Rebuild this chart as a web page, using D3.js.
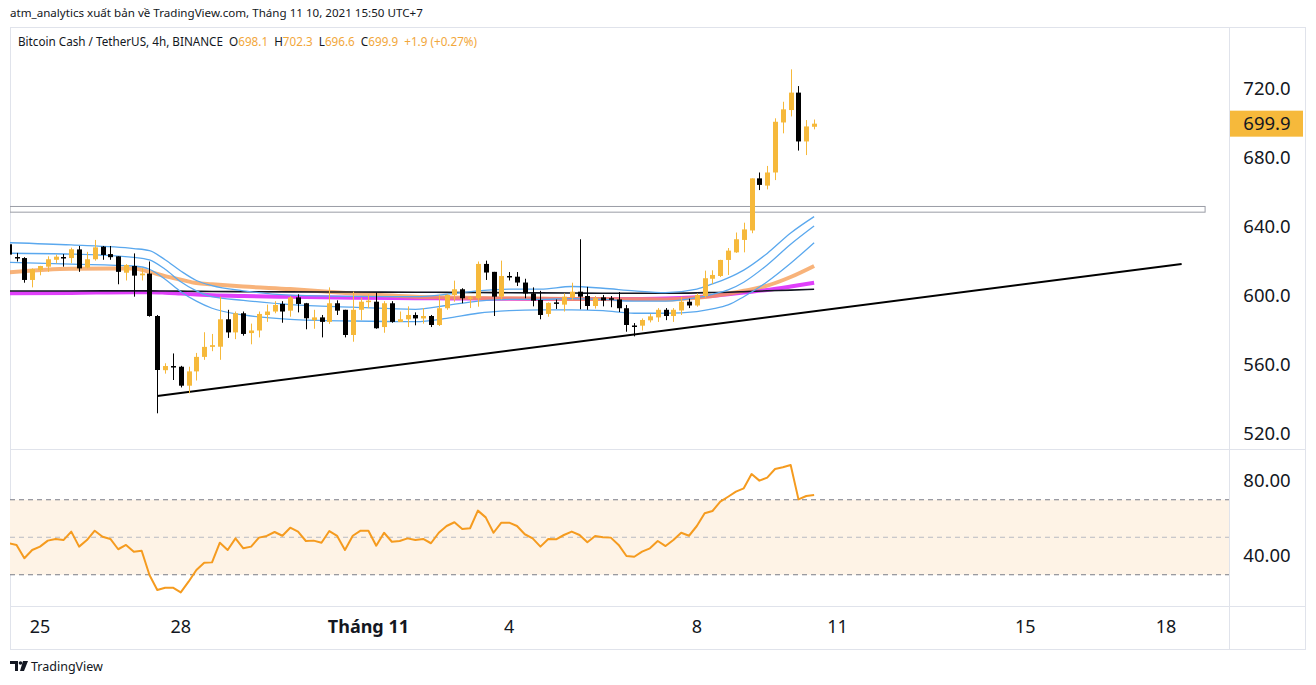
<!DOCTYPE html>
<html><head><meta charset="utf-8">
<script src="https://cdn.jsdelivr.net/npm/d3@7"></script>
<style>
html,body{margin:0;padding:0;background:#fff;}
svg{display:block;font-family:"Noto Sans",sans-serif;}
</style></head>
<body><svg id="c" width="1316" height="685"></svg>
<script>
// ---------- DATA ----------
const headerText = "atm_analytics xuất bản về TradingView.com, Tháng 11 10, 2021 15:50 UTC+7";
const symbolText = "Bitcoin Cash / TetherUS, 4h, BINANCE";
const legendLabels = ["O", "H", "L", "C"];
const legendValues = ["698.1", "702.3", "696.6", "699.9"];
const legendChange = "+1.9 (+0.27%)";
const lastPrice = 699.9;

const opens = [630,622.6,622,609.3,615,617,621,622.6,622,627,616.5,621.3,628.6,624.3,623,613.5,617.4,612,613,588.4,557,559.4,559,548,556.3,564.7,570.5,570.6,586.5,578.9,590,578.5,580,589,591,595.4,591.5,599.2,595.8,586,587.6,585,595.8,592,577.4,592,596.8,596.7,582,595.8,585,586.5,589,587,588.4,583.2,592.9,600.6,603.9,598.5,598.7,618.6,614,599.6,611.6,611.2,607.8,601.5,597.7,589.6,596.3,595,599.2,602.5,600,594.2,599.2,598.7,598,592.9,582.9,582.8,585.9,587.6,592,588.4,591.6,596.7,594.5,600,610,611.6,620.9,625.3,632.5,638,668.2,664,671.6,700.6,707.8,717.9,689.6,698.1];
const highs = [631,625,622.5,616,617.5,623,624,624.3,628,629,625.6,632.5,629,629,623,618.5,624.7,616,620,589,561,566.7,559.5,559,567,579,578,599.6,592,591,591,584,591,595,597,597,600,601,596,592,589,605,597.5,592,602.5,599,601,602,597,597,591,594,590.5,593,589,600.6,601,608.9,604.5,600,620,620.5,614,620.5,613.9,613.9,610,605,603,596.3,598,601.5,607.7,632.9,605.3,600,600.6,600,602.3,594.8,584.3,587,589.6,593,593,593,599.6,598.4,601.5,614.7,614.9,621,627.8,636.8,642.5,668.2,671.6,675.4,703,712.6,731.4,721.7,702,702.3];
const lows = [622,620,607.7,605,612,614,619,617,619,614,616,620.5,621,621,606.8,609,599.6,609,588,532,555,551.3,547,543.6,551,563,568,563,575.7,575,577,572,576,585,590,584.5,588,590.5,580.7,581,576,583.8,589,576,573.5,586,593,581,578.7,584.5,585,582,583,584,582,582.6,592,596.7,595.8,593,593.8,609.3,588.4,598,609,605.8,598.7,594,586.5,588,592.5,591,597.7,592.3,592,592.7,594,593.5,590.7,579.3,576.6,580,584.7,585,586,585,589,593,593.8,598.7,607,611,612.2,625,625.3,636.4,661.4,661.8,667.2,694.3,704.1,684.3,681.7,696.6];
const closes = [624,622.3,609.3,615.6,617.4,621.3,622.8,622.3,627.1,616,621.3,628.2,623.8,622.5,614,618,611.8,613,588.4,557.1,559.4,559,548,556.3,564.7,570.5,571.5,586.5,578.9,590,578,580,589.6,591,594.8,591,599.2,595.4,587.1,587.6,585,595.8,591.5,577.4,592,596.7,597.3,581.3,595.8,585,586.5,589,587,588.4,583.2,592.9,600.6,603.9,598.7,599.2,618.6,613.6,599.6,611.6,611.2,607.8,601.5,597.3,589,596,595.8,599.6,602.5,599.6,594.2,598.7,597.4,598.5,592.9,583.2,582.6,586.1,588.2,592,588.4,592,596.7,594.5,600.6,610.3,612.2,620.9,626.3,632.9,638.6,668.2,664.4,671.6,701,708.2,717.9,689.6,698.3,699.9];

const rsiValues = [46.8,45.9,38.8,43.2,45,48.2,49.1,48.5,53,45,48.5,53.5,50.3,49.1,43.6,45.9,42.3,42.8,29.9,21.9,23.1,23.1,20.6,26.3,32.5,36.4,36.6,47.1,43.2,49.4,44.1,45,49.8,50.7,52.8,50.8,55.1,53,48,48.2,47.1,53.3,50.7,43.2,50.8,53.5,53.5,45.5,52.4,47.6,48,49.4,48.5,49.1,46.8,52.4,56,58,54.4,54.8,64.2,60.6,52.4,57.8,57.8,56,51.6,49.4,45,49.1,48.9,51.2,53,51.2,47.3,50.7,50,49.8,45.9,40,39.6,42.3,44.1,48,45.3,48.5,52.4,50.8,56,62.8,64,69,71.6,74.3,76.1,83.7,80.2,81.8,86.4,87.3,88.5,70.2,72,72.5];

// indicator lines, read at these candle indices
const sampleIdx   = [0,8,16,18,20,22,24,26,30,36,44,52,56,60,64,68,72,76,80,84,88,90,92,94,97,100,103];
const maOrange    = [613.7,615.8,616,614,611.5,609.5,607.5,606.8,605.5,604,601.5,599.6,599.2,598.9,598.7,598.5,598.3,598.2,598.1,598,599,600,601.3,603,606,611,617.4];
const maMagenta   = [601.6,601.8,602.2,602.2,601.9,601.4,600.9,600.5,600,599.5,599,598.7,598.6,598.5,598.4,598.3,598.2,598.2,598.3,598.5,599.3,600,601,602,603.5,605.5,607.7];
const maBlack     = [602.9,602.9,603,603,602.9,602.8,602.7,602.6,602.5,602.4,602.3,602.2,602.1,602,601.9,601.8,601.7,601.6,601.6,601.6,601.8,602,602.2,602.5,603,603.4,603.9];
const bandUpper   = [630.9,629.6,627.5,626.3,621,614.5,609,606,603,600.5,599.8,599.6,601,603,604,604,605.5,604.5,603,602,604,607,610.5,615,624.7,636.5,646];
const bandMiddle  = [624.8,624.3,622.4,620.9,615.5,608.3,603,599.6,597.5,595,593.5,592.3,594.5,597,598,598,598.5,598,597,597,599,601,603.5,608,618,630,640.6];
const bandLower   = [619.5,618.5,617.4,615.5,609.7,602.5,597,592.9,589,586.5,585.5,585.1,587,590,591.5,592,592,591.5,590,590,591,592.5,594.8,599.6,608.3,619,630.9];

// drawings
const trendStart = ["2021-10-27T12:00Z", 542];
const trendEnd   = ["2021-11-18T08:00Z", 618.6];
const zoneTop = 651.9, zoneBottom = 648.6, zoneEnd = "2021-11-18T20:00Z";

const firstCandle = "2021-10-24T08:00Z";
const candleHours = 4;

const priceTicks = [520, 560, 600, 640, 680, 720];
const rsiTicks = [40, 80];
const rsiLevels = [30, 50, 70];
const timeTickDates = ["2021-10-25","2021-10-28","2021-11-01","2021-11-04","2021-11-08","2021-11-11","2021-11-15","2021-11-18"];
const timeTickLabels = ["25","28","Tháng 11","4","8","11","15","18"];

// ---------- LAYOUT ----------
const L = 10, AX = 1229, R = 1306;
const pTop = 27, pBot = 449, rTop = 449, rBot = 606, tBot = 649;
const UP = "#F6B93B", DOWN = "#000000";

const svg = d3.select("#c");
const times = opens.map((_, i) => new Date(Date.parse(firstCandle) + i * candleHours * 3600e3));
const x = d3.scaleTime()
  .domain([new Date("2021-10-25T00:00Z"), new Date("2021-11-18T00:00Z")])
  .range([40, 1166]);
const y = d3.scaleLinear().domain([520, 720]).range([434, 89]);
const yr = d3.scaleLinear().domain([40, 80]).range([556, 481]);

const defs = svg.append("defs");
defs.append("clipPath").attr("id", "cp").append("rect").attr("x", L).attr("y", pTop).attr("width", AX - L).attr("height", pBot - pTop);
defs.append("clipPath").attr("id", "cr").append("rect").attr("x", L).attr("y", rTop).attr("width", AX - L).attr("height", rBot - rTop);

// header
svg.append("text").attr("x", 10).attr("y", 17).attr("font-size", 11.6).attr("fill", "#131722").text(headerText);

// frame
const frame = svg.append("g").attr("stroke", "#e0e3eb").attr("fill", "none");
frame.append("rect").attr("x", L + 0.5).attr("y", pTop + 0.5).attr("width", R - L - 1).attr("height", tBot - pTop);
frame.append("line").attr("x1", L).attr("x2", R).attr("y1", pBot + 0.5).attr("y2", pBot + 0.5);
frame.append("line").attr("x1", L).attr("x2", R).attr("y1", rBot + 0.5).attr("y2", rBot + 0.5);
frame.append("line").attr("x1", AX + 0.5).attr("x2", AX + 0.5).attr("y1", pTop).attr("y2", tBot);

// ---------- PRICE PANE ----------
const pg = svg.append("g").attr("clip-path", "url(#cp)");

pg.append("rect")
  .attr("x", L).attr("y", y(zoneTop))
  .attr("width", x(new Date(zoneEnd)) - L).attr("height", y(zoneBottom) - y(zoneTop))
  .attr("fill", "#ffffff").attr("stroke", "#9a9da6").attr("stroke-width", 1);

const xi = i => x(new Date(Date.parse(firstCandle) + i * candleHours * 3600e3));
function series(vals) { return sampleIdx.map((k, j) => [xi(k), y(vals[j])]); }
const lineGen = d3.line().curve(d3.curveMonotoneX);

pg.append("path").attr("d", lineGen(series(maMagenta))).attr("fill", "none").attr("stroke", "#E040FB").attr("stroke-width", 4);
pg.append("path").attr("d", lineGen(series(maOrange))).attr("fill", "none").attr("stroke", "#F59A4E").attr("stroke-width", 4).attr("stroke-opacity", 0.75);
pg.append("path").attr("d", lineGen(series(maBlack))).attr("fill", "none").attr("stroke", "#131722").attr("stroke-width", 1.6);
[bandUpper, bandMiddle, bandLower].forEach(v => {
  pg.append("path").attr("d", lineGen(series(v))).attr("fill", "none").attr("stroke", "#5AA8EE").attr("stroke-width", 1.3);
});

pg.append("line")
  .attr("x1", x(new Date(trendStart[0]))).attr("y1", y(trendStart[1]))
  .attr("x2", x(new Date(trendEnd[0]))).attr("y2", y(trendEnd[1]))
  .attr("stroke", "#000").attr("stroke-width", 2);

// candles
const cw = 5;
const cg = pg.append("g");
opens.forEach((o, i) => {
  const c = closes[i], up = c >= o, col = up ? UP : DOWN;
  const cx = Math.round(x(times[i]));
  cg.append("line").attr("x1", cx + 0.5).attr("x2", cx + 0.5).attr("y1", y(highs[i])).attr("y2", y(lows[i])).attr("stroke", col).attr("stroke-width", 1);
  const top = y(Math.max(o, c)), bot = y(Math.min(o, c));
  cg.append("rect").attr("x", cx - 2).attr("y", top).attr("width", cw).attr("height", Math.max(1.5, bot - top)).attr("fill", col);
});

// price axis
const pa = svg.append("g").attr("font-size", 18.5).attr("fill", "#131722").attr("text-anchor", "middle");
priceTicks.forEach(t => {
  pa.append("text").attr("x", 1267).attr("y", y(t)).attr("dy", "0.35em").text(t.toFixed(1));
});
svg.append("rect").attr("x", AX + 1).attr("y", y(lastPrice) - 13).attr("width", 73).attr("height", 26).attr("fill", UP);
svg.append("text").attr("x", 1267).attr("y", y(lastPrice)).attr("dy", "0.35em").attr("text-anchor", "middle").attr("font-size", 18.5).attr("fill", "#131722").text(lastPrice.toFixed(1));

// legend
const lg = svg.append("text").attr("x", 18).attr("y", 46).attr("font-size", 11.7).attr("fill", "#131722").style("white-space", "pre");
lg.append("tspan").text(symbolText + "  ");
legendLabels.forEach((lab, i) => {
  lg.append("tspan").attr("fill", "#131722").text((i ? "  " : "") + lab);
  lg.append("tspan").attr("fill", "#F2A73B").text(legendValues[i]);
});
lg.append("tspan").attr("fill", "#F2A73B").text("  " + legendChange);

// ---------- RSI PANE ----------
const rg = svg.append("g").attr("clip-path", "url(#cr)");
rg.append("rect").attr("x", L).attr("y", yr(70)).attr("width", AX - L).attr("height", yr(30) - yr(70)).attr("fill", "#FEF3E6");
rsiLevels.forEach(v => {
  rg.append("line").attr("x1", L).attr("x2", AX).attr("y1", yr(v)).attr("y2", yr(v))
    .attr("stroke", v === 50 ? "#b8bac2" : "#787b86").attr("stroke-width", 1).attr("stroke-dasharray", "5,4");
});
rg.append("path").attr("d", d3.line().x((d, i) => x(times[i])).y(d => yr(d))(rsiValues))
  .attr("fill", "none").attr("stroke", "#F59B1F").attr("stroke-width", 2).attr("stroke-linejoin", "round");
const ra = svg.append("g").attr("font-size", 18.5).attr("fill", "#131722").attr("text-anchor", "middle");
rsiTicks.forEach(t => ra.append("text").attr("x", 1267).attr("y", yr(t)).attr("dy", "0.35em").text(t.toFixed(2)));

// ---------- TIME AXIS ----------
const ta = svg.append("g").attr("font-size", 18).attr("fill", "#131722").attr("text-anchor", "middle");
timeTickDates.forEach((d, i) => {
  ta.append("text").attr("x", x(new Date(d + "T00:00Z"))).attr("y", 627).attr("dy", "0.35em")
    .attr("font-weight", timeTickLabels[i].length > 2 ? "bold" : "normal").text(timeTickLabels[i]);
});

// ---------- LOGO ----------
const logo = svg.append("g").attr("fill", "#131722");
logo.append("path").attr("d", "M10,661 h8 v10 h-3 v-7 h-5 z");
logo.append("circle").attr("cx", 20.5).attr("cy", 663).attr("r", 1.8);
logo.append("path").attr("d", "M23,661 h5 l-4,10 h-4 z");
svg.append("text").attr("x", 31).attr("y", 671).attr("font-size", 12.5).attr("fill", "#131722").text("TradingView");
</script></body></html>
